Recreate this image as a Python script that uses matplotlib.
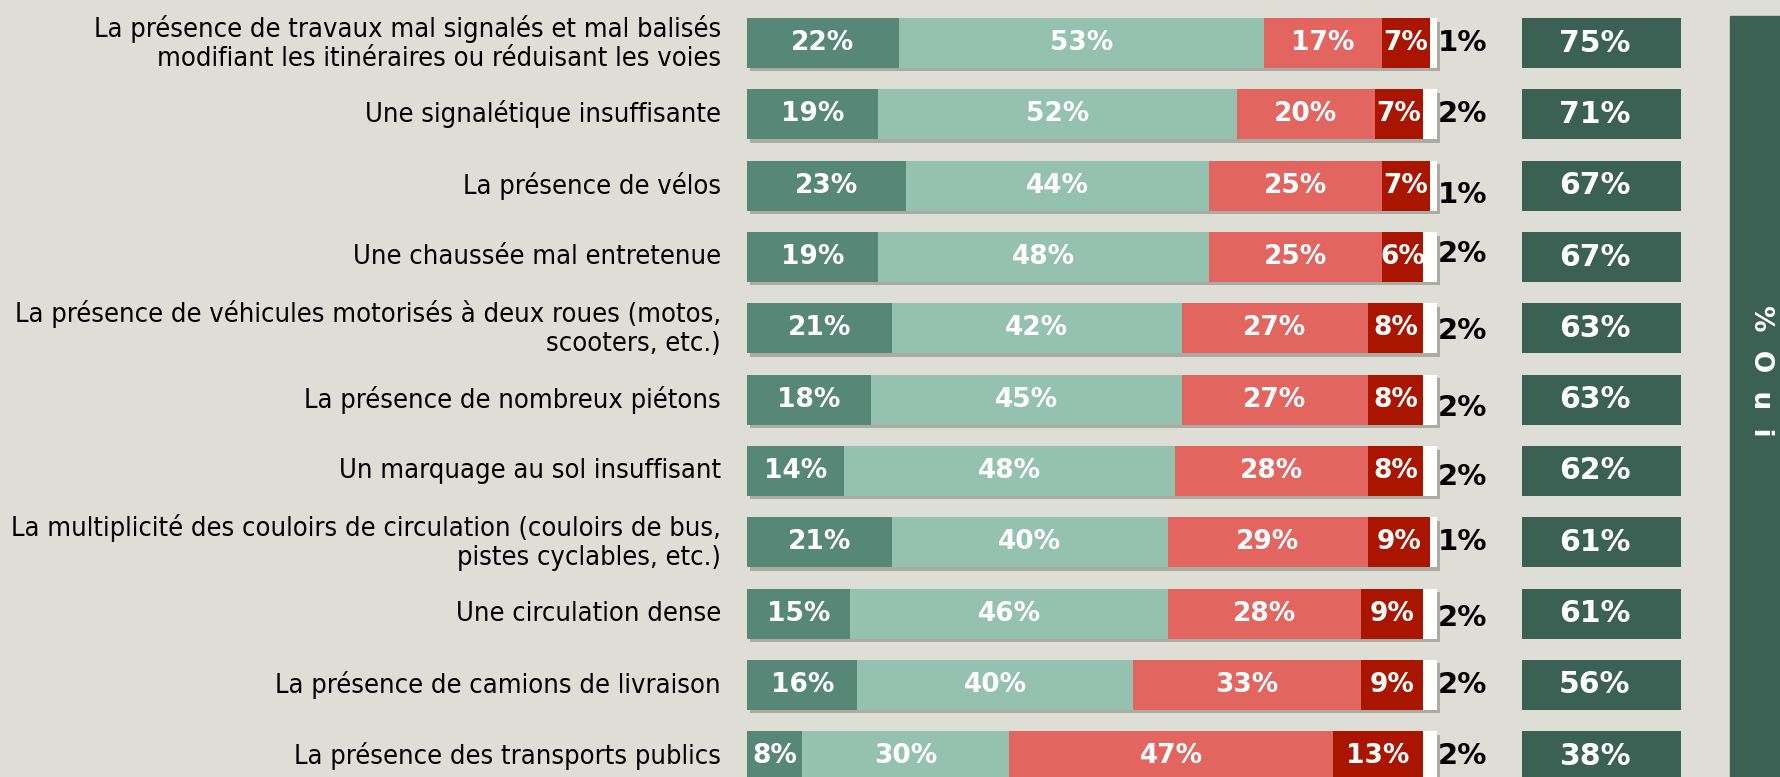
import matplotlib.pyplot as plt
import matplotlib.patheffects as pe
from matplotlib.patches import Rectangle

labels = [
    "La présence de travaux mal signalés et mal balisés\nmodifiant les itinéraires ou réduisant les voies",
    "Une signalétique insuffisante",
    "La présence de vélos",
    "Une chaussée mal entretenue",
    "La présence de véhicules motorisés à deux roues (motos,\nscooters, etc.)",
    "La présence de nombreux piétons",
    "Un marquage au sol insuffisant",
    "La multiplicité des couloirs de circulation (couloirs de bus,\npistes cyclables, etc.)",
    "Une circulation dense",
    "La présence de camions de livraison",
    "La présence des transports publics",
]
tout_a_fait = [22, 19, 23, 19, 21, 18, 14, 21, 15, 16, 8]
plutot_oui = [53, 52, 44, 48, 42, 45, 48, 40, 46, 40, 30]
plutot_non = [17, 20, 25, 25, 27, 27, 28, 29, 28, 33, 47]
pas_du_tout = [7, 7, 7, 6, 8, 8, 8, 9, 9, 9, 13]
nsp = [1, 2, 1, 2, 2, 2, 2, 1, 2, 2, 2]
total_oui = [75, 71, 67, 67, 63, 63, 62, 61, 61, 56, 38]

series = [tout_a_fait, plutot_oui, plutot_non, pas_du_tout, nsp]
colors = ["#578777", "#95c1b1", "#e26560", "#aa1500", "#ffffff"]
bg = "#deddd6"
dark = "#3b6155"

# small vertical nudges (points) of the outside labels, as in the original
nudge = [0, 0, -7, 2, -2, -6, -4, 0, -3, 0, 0]

fig = plt.figure(figsize=(17.81, 7.77), dpi=100, facecolor=bg)
ax = fig.add_axes([0, 0, 1, 1])
ax.set_facecolor(bg)
ax.set_xlim(-108.3, 149.9)
ax.set_ylim(10.29, -0.603)
ax.axis("off")

y = list(range(len(labels)))
h = 0.70
shadow = [pe.SimplePatchShadow(offset=(2.5, -2.5), shadow_rgbFace="#8a8a82", alpha=0.6), pe.Normal()]

left = [0] * len(labels)
for k, vals in enumerate(series):
    bars = ax.barh(y, vals, left=left, height=h, color=colors[k], linewidth=0)
    for b in bars:
        b.set_path_effects(shadow)
    for i, v in enumerate(vals):
        if k < 4:
            ax.text(left[i] + v / 2, i, f"{v}%", ha="center", va="center",
                    color="white", fontsize=19, fontweight="bold", family="DejaVu Sans")
        else:
            ax.annotate(f"{v}%", (left[i] + v + 0.2, i), xytext=(0, nudge[i]),
                        textcoords="offset points", ha="left", va="center",
                        color="black", fontsize=21, fontweight="bold", family="DejaVu Sans")
    left = [a + b for a, b in zip(left, vals)]

# total "oui" boxes
ax.barh(y, [23.1] * len(y), left=112.3, height=h, color=dark, linewidth=0)
for i, v in enumerate(total_oui):
    ax.text(122.9, i, f"{v}%", ha="center", va="center", color="white",
            fontsize=21.5, fontweight="bold", family="DejaVu Sans")

# row labels
for i, lab in enumerate(labels):
    ax.text(-3.8, i, lab, ha="right", va="center", fontsize=19.5,
            family="DejaVu Sans", fontstretch="condensed", linespacing=1.15)

# side header
ax.add_patch(Rectangle((142.5, -0.38), 10, 11, color=dark, clip_on=False))
ax.text(147.0, 4.6, "%  O  u  i", rotation=-90, ha="center", va="center",
        color="white", fontsize=19, fontweight="bold", family="DejaVu Sans")

fig.savefig("out.png", dpi=100, facecolor=bg)
